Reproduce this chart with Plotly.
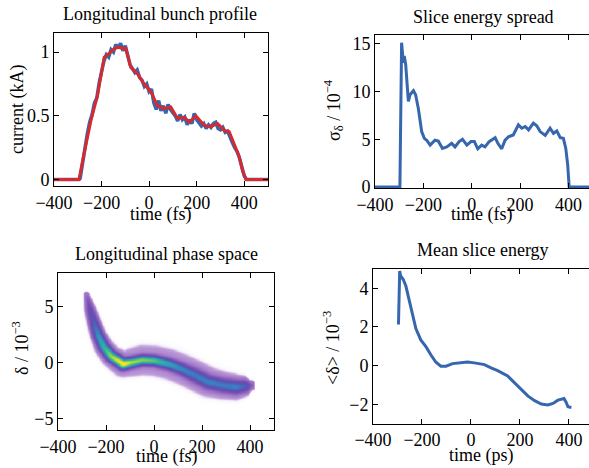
import numpy as np
import plotly.graph_objects as go

W, H = 589, 468
FONT = "Liberation Serif"
BLUE = "#3566ae"
RED = "#d62a2f"

# ---------------- Longitudinal bunch profile (current, kA) ----------------
prof_t_blue = [-400, -295, -290, -280, -270, -260, -250, -240, -230, -220, -210, -200, -190, -180,
               -170, -160, -150, -140, -130, -120, -110, -100, -90, -80, -70, -60, -50, -40,
               -30, -20, -10, 0, 10, 20, 30, 40, 50, 60, 70, 80, 90, 100, 110, 120, 130,
               140, 150, 160, 170, 180, 190, 200, 210, 220, 230, 240, 250, 260, 270, 280,
               290, 300, 310, 320, 330, 340, 350, 360, 370, 380, 390, 400, 410, 500]
prof_I_blue = [0, 0, 0.01, 0.13, 0.26, 0.36, 0.45, 0.51, 0.60, 0.64, 0.76, 0.86, 0.93, 0.98,
               0.96, 1.02, 1.00, 1.06, 1.03, 1.07, 1.01, 1.05, 0.97, 0.90, 0.87, 0.84, 0.86, 0.80,
               0.78, 0.73, 0.75, 0.69, 0.71, 0.60, 0.55, 0.62, 0.54, 0.58, 0.52, 0.59, 0.55, 0.53,
               0.50, 0.46, 0.51, 0.47, 0.49, 0.43, 0.47, 0.44, 0.52, 0.47, 0.45, 0.42, 0.44,
               0.40, 0.43, 0.41, 0.44, 0.45, 0.40, 0.39, 0.41, 0.37, 0.38, 0.33, 0.29, 0.25,
               0.22, 0.17, 0.10, 0.03, 0, 0]
prof_t_red = [-400, -295, -274, -245, -217, -196, -189, -168, -150, -133, -115, -98, -77, -49,
              -21, 7, 35, 63, 91, 120, 148, 169, 197, 232, 260, 288, 316, 337, 358, 379, 393,
              407, 500]
prof_I_red = [0, 0, 0.20, 0.46, 0.66, 0.91, 0.96, 0.99, 1.02, 1.04, 1.03, 1.03, 0.88, 0.83,
              0.75, 0.69, 0.58, 0.556, 0.57, 0.48, 0.49, 0.45, 0.50, 0.425, 0.415, 0.44, 0.386,
              0.375, 0.27, 0.18, 0.07, 0, 0]

# ---------------- Slice energy spread (1e-4) ----------------
spr_t = [-400, -297, -290, -283, -279, -273, -262, -255, -241, -232, -221, -207, -196, -186,
         -172, -152, -138, -121, -103, -83, -69, -52, -38, -20, -3, 11, 25, 41, 55, 72, 97,
         108, 124, 138, 152, 172, 193, 207, 221, 235, 255, 269, 283, 304, 324, 338, 352, 366,
         379, 389, 397, 403, 500]
spr_s = [0, 0, 15.1, 13.0, 13.7, 12.8, 8.96, 9.66, 10.08, 9.66, 8.25, 5.8, 5.09, 4.9,
         4.39, 4.9, 4.8, 4.04, 4.2, 4.57, 4.2, 4.75, 5.0, 4.39, 4.75, 4.75, 4.0, 4.39, 4.2,
         4.75, 5.16, 4.57, 4.0, 4.9, 5.26, 5.44, 6.5, 6.15, 6.33, 5.98, 6.68, 6.4, 5.8, 5.4,
         6.15, 5.62, 5.87, 5.16, 5.09, 4.04, 2.3, 0, 0]

# ---------------- Mean slice energy (1e-3) ----------------
mean_t = [-296, -291, -287, -277, -266, -253, -239, -225, -205, -184, -164, -143, -123, -102,
          -75, -41, -14, 14, 55, 82, 109, 150, 178, 205, 232, 260, 287, 314, 335, 355, 380,
          389, 396, 410]
mean_d = [2.13, 4.9, 4.64, 4.47, 4.13, 3.45, 2.6, 1.92, 1.33, 0.98, 0.56, 0.17, -0.03, -0.03,
          0.10, 0.17, 0.19, 0.14, 0.05, -0.12, -0.26, -0.54, -0.88, -1.22, -1.57, -1.82,
          -1.99, -2.04, -1.96, -1.79, -1.71, -1.91, -2.13, -2.17]

# ---------------- Longitudinal phase space: ridge ----------------
ps_t = [-283, -268, -253, -235, -210, -180, -130, -95, -50, 0, 60, 115, 170, 225, 285, 340, 385, 402]
ps_d = [6.1, 4.8, 3.7, 2.5, 1.4, 0.6, -0.1, 0.05, 0.25, 0.2, -0.1, -0.55, -1.1, -1.7, -2.0, -2.15, -2.05, -2.0]
ps_halo = [3, 6, 7, 8, 10, 11, 13, 14, 15, 15, 15, 15, 15, 15, 14, 13, 10, 5]      # px half-width
ps_core = [1.5, 2.5, 3, 3.2, 3.2, 3.2, 3.2, 3, 3, 3, 3.2, 3.5, 4, 4, 4, 4, 3.5, 2.5]   # px sigma
ps_peak = [0.05, 0.2, 0.28, 0.45, 0.6, 0.8, 1.0, 0.82, 0.76, 0.7, 0.52, 0.42, 0.38, 0.4, 0.38, 0.4, 0.28, 0.1]

SX, SY = 0.2396, 11.16  # px per fs, px per 1e-3
tg = np.arange(-300, 421, 2.5)
dg = np.arange(-4.5, 7.01, 0.05)
TT, DD = np.meshgrid(tg, dg)
px, py = TT * SX, DD * SY
vx, vy = np.array(ps_t) * SX, np.array(ps_d) * SY
hal, cor, pk = map(np.array, (ps_halo, ps_core, ps_peak))
best = np.full(px.shape, np.inf)
Hh = np.zeros(px.shape); Cc = np.ones(px.shape); Pp = np.zeros(px.shape)
for i in range(len(vx) - 1):
    ax_, ay_, dx, dy = vx[i], vy[i], vx[i + 1] - vx[i], vy[i + 1] - vy[i]
    u = np.clip(((px - ax_) * dx + (py - ay_) * dy) / (dx * dx + dy * dy), 0, 1)
    dist = np.hypot(px - (ax_ + u * dx), py - (ay_ + u * dy))
    m = dist < best
    best = np.where(m, dist, best)
    Hh = np.where(m, hal[i] + (hal[i + 1] - hal[i]) * u, Hh)
    Cc = np.where(m, cor[i] + (cor[i + 1] - cor[i]) * u, Cc)
    Pp = np.where(m, pk[i] + (pk[i + 1] - pk[i]) * u, Pp)
z = Pp * np.exp(-0.5 * (best / Cc) ** 2) + 0.075 / (1 + (best / Hh) ** 14)
z = np.clip(z, 0, 1)

cscale = [[0, "#ffffff"], [0.02, "#f3ecf8"], [0.05, "#c8aae0"], [0.09, "#a982cc"],
          [0.16, "#8a5cbb"], [0.26, "#6a4aae"], [0.36, "#4f5db8"], [0.46, "#3f7cc2"],
          [0.58, "#2fa0b6"], [0.72, "#36bd8a"], [0.86, "#9cd446"], [1, "#f2e52a"]]

fig = go.Figure()
fig.add_trace(go.Scatter(x=prof_t_blue, y=prof_I_blue, mode="lines",
                         line=dict(color=BLUE, width=3.5), xaxis="x", yaxis="y"))
fig.add_trace(go.Scatter(x=prof_t_red, y=prof_I_red, mode="lines",
                         line=dict(color=RED, width=3), xaxis="x", yaxis="y"))
fig.add_trace(go.Scatter(x=spr_t, y=spr_s, mode="lines",
                         line=dict(color=BLUE, width=3), xaxis="x2", yaxis="y2"))
fig.add_trace(go.Heatmap(x=tg, y=dg, z=z, colorscale=cscale, zmin=0, zmax=1,
                         showscale=False, zsmooth="best", xaxis="x3", yaxis="y3"))
fig.add_trace(go.Scatter(x=mean_t, y=mean_d, mode="lines",
                         line=dict(color=BLUE, width=3), xaxis="x4", yaxis="y4"))

def px2x(p):
    return p / W

def px2y(p):
    return 1 - p / H

common = dict(showline=True, linecolor="black", linewidth=1, ticks="inside", ticklen=5,
              tickcolor="black", showgrid=False, zeroline=False, automargin=False,
              tickfont=dict(family=FONT, size=18, color="black"))
xt = dict(tickvals=[-400, -200, 0, 200, 400], **common)

fig.update_layout(
    width=W, height=H, margin=dict(l=0, r=0, t=0, b=0, pad=0, autoexpand=False),
    paper_bgcolor="white", plot_bgcolor="white", showlegend=False,
    xaxis=dict(domain=[px2x(54), px2x(268)], range=[-400, 500], anchor="y", mirror="ticks", **xt),
    yaxis=dict(domain=[px2y(186), px2y(33)], range=[-0.05, 1.15], anchor="x", mirror="ticks",
               tickvals=[0, 0.5, 1], ticktext=["0", "0.5", "1"], **common),
    xaxis2=dict(domain=[px2x(375), 1], range=[-400, 485], anchor="y2", mirror="ticks", **xt),
    yaxis2=dict(domain=[px2y(188), px2y(35)], range=[-0.1, 15.9], anchor="x2",
                tickvals=[0, 5, 10, 15], **common),
    xaxis3=dict(domain=[px2x(58), px2x(274)], range=[-400, 500], anchor="y3", mirror="ticks", **xt),
    yaxis3=dict(domain=[px2y(430), px2y(273)], range=[-6, 8], anchor="x3", mirror="ticks",
                tickvals=[-5, 0, 5], **common),
    xaxis4=dict(domain=[px2x(373), 1], range=[-400, 482], anchor="y4", mirror="ticks", **xt),
    yaxis4=dict(domain=[px2y(423.5), px2y(269)], range=[-3, 5], anchor="x4",
                tickvals=[-2, 0, 2, 4], **common),
)

def ann(text, x, y, angle=0):
    fig.add_annotation(text=text, x=px2x(x), y=px2y(y), xref="paper", yref="paper",
                       xanchor="center", yanchor="middle", showarrow=False, textangle=angle,
                       font=dict(family=FONT, size=18, color="black"))

ann("Longitudinal bunch profile", 160, 14)
ann("Slice energy spread", 483, 17)
ann("Longitudinal phase space", 166, 254)
ann("Mean slice energy", 483, 250)
ann("time (fs)", 160, 215)
ann("time (fs)", 481, 215)
ann("time (fs)", 166, 456)
ann("time (ps)", 482, 455)
ann("current (kA)", 17, 110, -90)
ann("σ<sub>δ</sub> / 10<sup>−4</sup>", 333, 110, -90)
ann("δ / 10<sup>−3</sup>", 20, 348, -90)
ann("&lt;δ&gt; / 10<sup>−3</sup>", 331, 348, -90)

fig.write_html("out.html", post_script="document.body.style.margin='0';")
